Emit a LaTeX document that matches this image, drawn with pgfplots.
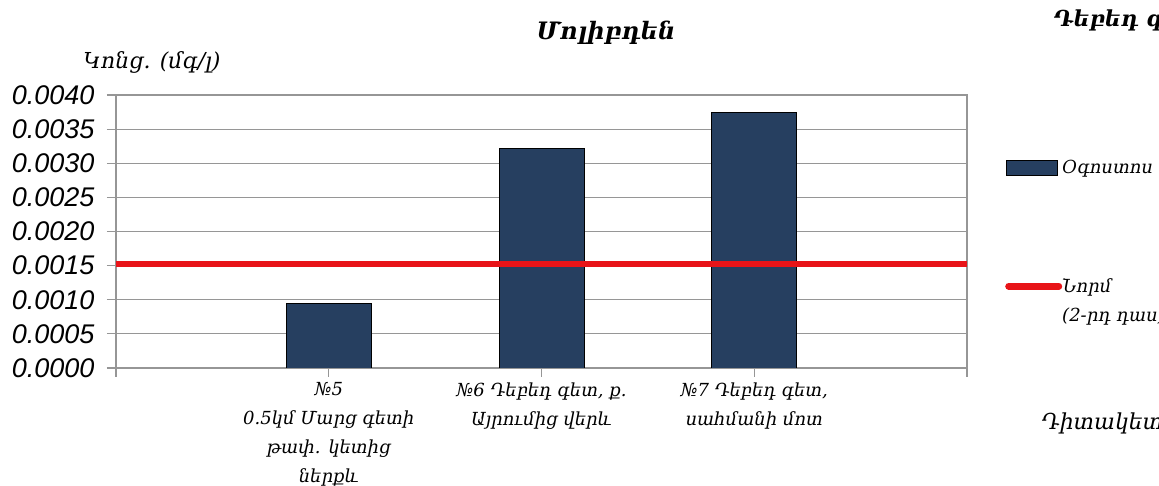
\documentclass[border=0pt]{standalone}
\usepackage{fontspec}
\setmainfont{DejaVu Serif}
\newfontfamily\numf{Liberation Sans}
\usepackage{pgfplots}
\pgfplotsset{compat=1.18}
\definecolor{barblue}{RGB}{38,63,96}
\definecolor{normred}{RGB}{232,20,24}
\definecolor{gridgray}{RGB}{150,150,150}
\pgfplotsset{
  barleg/.style={legend image code/.code={\draw[fill=barblue, draw=black, line width=0.8pt] (0pt,-1.5pt) rectangle (51pt,13.5pt);}},
  lineleg/.style={legend image code/.code={\draw[normred, line width=7pt, line cap=round] (2pt,6pt) -- (52pt,6pt);}},
}
\begin{document}
\begin{tikzpicture}
\path[use as bounding box] (-116pt,-118pt) rectangle (1043pt,368pt);
\begin{axis}[
  scale only axis,
  width=851pt, height=273pt,
  xmin=0, xmax=4, ymin=0, ymax=0.004,
  scaled y ticks=false,
  axis line style={gridgray, line width=1.2pt},
  xtick={0,1,2,3,4},
  xticklabels={,{№5\\0.5կմ Մարց գետի\\թափ. կետից\\ներքև},{№6 Դեբեդ գետ, ք.\\Այրումից վերև},{№7 Դեբեդ գետ,\\սահմանի մոտ},},
  xticklabel style={font=\fontsize{18}{29}\selectfont\itshape, align=center, anchor=north, yshift=-2pt},
  ytick={0,0.0005,0.001,0.0015,0.002,0.0025,0.003,0.0035,0.004},
  yticklabels={0.0000,0.0005,0.0010,0.0015,0.0020,0.0025,0.0030,0.0035,0.0040},
  yticklabel style={font=\fontsize{27}{30}\selectfont\numf\itshape, anchor=east, xshift=-9pt},
  tick align=outside,
  major tick length=9pt,
  tick style={gridgray, line width=1.2pt},
  ymajorgrids,
  grid style={gridgray, line width=1.2pt},
  xtick pos=bottom, ytick pos=left,
  legend style={at={(1.0447,0.763)}, anchor=north west, draw=none, fill=none,
    font=\fontsize{18}{22}\selectfont\itshape, row sep=10.6pt, inner sep=0pt,
    nodes={inner sep=0pt, text height=13pt, text depth=6pt, anchor=base west},
    /tikz/every even column/.append style={column sep=6pt}},
  legend cell align=left,
]
\addplot[ybar, bar width=85pt, fill=barblue, draw=black, line width=0.8pt, barleg]
  coordinates {(1,0.00094) (2,0.00322) (3,0.00375)};
\addlegendentry{Օգոստոս}
\addlegendimage{empty legend}\addlegendentry{~}
\addlegendimage{empty legend}\addlegendentry{~}
\addlegendimage{empty legend}\addlegendentry{~}
\addplot[normred, line width=6pt, lineleg]
  coordinates {(0,0.00152) (4,0.00152)};
\addlegendentry{Նորմ}
\addlegendimage{empty legend}\addlegendentry{(2-րդ դաս)}
\end{axis}
\node[font=\fontsize{24}{28}\selectfont\bfseries\itshape] at (490pt,335pt) {Մոլիբդեն};
\node[font=\fontsize{22}{26}\selectfont\itshape] at (36pt,306pt) {Կոնց. (մգ/լ)};
\node[font=\fontsize{22}{26}\selectfont\bfseries\itshape, anchor=west] at (934pt,348pt) {Դեբեդ գետ};
\node[font=\fontsize{22}{26}\selectfont\itshape, anchor=west] at (922pt,-55pt) {Դիտակետեր};
\end{tikzpicture}
\end{document}
